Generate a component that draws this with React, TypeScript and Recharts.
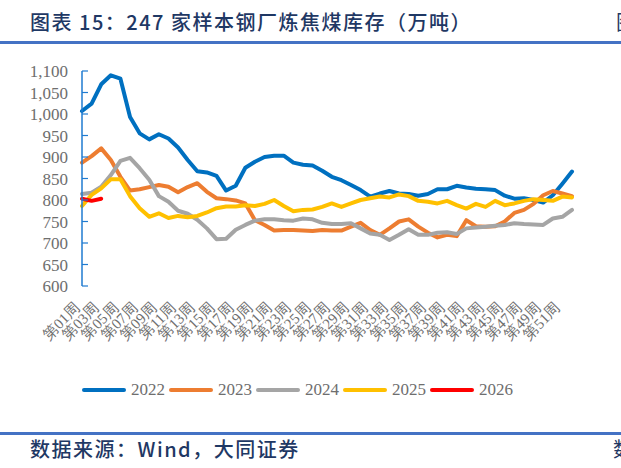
import React from 'react';
import { LineChart, Line, XAxis, YAxis, Legend } from 'recharts';

const weeks = [
  '第01周', '第02周', '第03周', '第04周', '第05周', '第06周', '第07周', '第08周', '第09周', '第10周',
  '第11周', '第12周', '第13周', '第14周', '第15周', '第16周', '第17周', '第18周', '第19周', '第20周',
  '第21周', '第22周', '第23周', '第24周', '第25周', '第26周', '第27周', '第28周', '第29周', '第30周',
  '第31周', '第32周', '第33周', '第34周', '第35周', '第36周', '第37周', '第38周', '第39周', '第40周',
  '第41周', '第42周', '第43周', '第44周', '第45周', '第46周', '第47周', '第48周', '第49周', '第50周',
  '第51周', '第52周',
];

const y2022 = [
  1007, 1024, 1069, 1090, 1082, 993, 955, 941, 953, 943,
  922, 893, 867, 864, 856, 822, 833, 875, 889, 900,
  903, 903, 887, 882, 880, 868, 854, 846, 835, 823,
  808, 815, 821, 815, 814, 810, 814, 825, 825, 833,
  829, 826, 825, 823, 810, 803, 804, 800, 794, 811,
  838, 866,
];
const y2023 = [
  887, 902, 920, 893, 854, 822, 825, 830, 835, 831,
  818, 830, 839, 819, 804, 802, 799, 792, 753, 742,
  729, 730, 730, 729, 728, 730, 729, 729, 738, 747,
  730, 719, 734, 750, 755, 738, 724, 713, 719, 716,
  753, 739, 738, 739, 750, 770, 777, 791, 811, 821,
  815, 809,
];
const y2024 = [
  814, 817, 831, 858, 891, 898, 874, 847, 809, 796,
  775, 768, 754, 734, 709, 710, 731, 742, 752, 755,
  755, 753, 752, 757, 755, 747, 744, 744, 746, 734,
  722, 719, 707, 719, 732, 719, 719, 724, 725, 721,
  734, 736, 738, 740, 742, 746, 744, 743, 742, 757,
  761, 777,
];
const y2025 = [
  786, 812, 827, 848, 848, 809, 781, 761, 769, 758,
  763, 760, 763, 771, 781, 785, 785, 788, 786, 791,
  800, 786, 774, 777, 778, 784, 792, 784, 792, 800,
  804, 808, 806, 813, 809, 798, 796, 792, 798, 788,
  780, 791, 784, 798, 788, 792, 798, 802, 800, 798,
  808, 806,
];
const y2026 = [803, 798, 803];

const seriesNames = ['2022', '2023', '2024', '2025', '2026'];
const seriesColors = ['#0070C0', '#ED7D31', '#A5A5A5', '#FFC000', '#FF0000'];
const seriesValues = [y2022, y2023, y2024, y2025, y2026];

const yTicks = [600, 650, 700, 750, 800, 850, 900, 950, 1000, 1050, 1100];
const boundaryTicks = weeks.map((_, i) => i).concat([weeks.length]);

const data = weeks.map((w, i) => {
  const row: Record<string, any> = { week: w };
  seriesNames.forEach((n, k) => {
    row['s' + n] = seriesValues[k][i];
  });
  return row;
});

const AXIS = '#1F7BD0';
const NAVY = '#1F3864';
const LABEL = '#6E6E6E';
const SERIF = "'Liberation Serif', 'Times New Roman', serif";

const WeekTick = (props: any) => {
  const { x, y, payload } = props;
  const ax = x - 5;
  const ay = y + 19;
  return (
    <text
      x={ax}
      y={ay}
      dy="0.35em"
      transform={`rotate(-45 ${ax} ${ay})`}
      textAnchor="end"
      fill={LABEL}
      fontSize={15}
      fontFamily={SERIF}
    >
      {payload.value}
    </text>
  );
};

const ValueTick = (props: any) => {
  const { x, y, payload } = props;
  return (
    <text
      x={x}
      y={y}
      dy="0.36em"
      textAnchor="end"
      fill={LABEL}
      fontSize={17}
      fontFamily={SERIF}
    >
      {Number(payload.value).toLocaleString('en-US')}
    </text>
  );
};

const renderLegend = (props: any) => {
  const items = props.payload || [];
  return (
    <div style={{ display: 'flex', alignItems: 'center', paddingLeft: 82 }}>
      {items.map((it: any) => (
        <div key={it.value} style={{ display: 'flex', alignItems: 'center', marginRight: 4 }}>
          <svg width={44} height={6} style={{ display: 'block' }}>
            <line x1={2} x2={42} y1={3} y2={3} stroke={it.color} strokeWidth={4} strokeLinecap="round" />
          </svg>
          <span
            style={{
              marginLeft: 5,
              fontFamily: SERIF,
              fontSize: 17,
              color: LABEL,
              lineHeight: '20px',
            }}
          >
            {it.value}
          </span>
        </div>
      ))}
    </div>
  );
};

export default function App() {
  return (
    <div
      style={{
        position: 'absolute',
        left: 0,
        top: 0,
        width: 621,
        height: 468,
        overflow: 'hidden',
        background: '#fff',
      }}
    >
      <div
        style={{
          position: 'absolute',
          left: 30,
          top: 7,
          fontFamily: "'Noto Sans CJK SC', sans-serif",
          fontSize: 20,
          letterSpacing: 1.5,
          color: NAVY,
          whiteSpace: 'nowrap',
          fontWeight: 500,
        }}
      >
        图表 15：247 家样本钢厂炼焦煤库存（万吨）
      </div>
      <div
        style={{
          position: 'absolute',
          left: 616,
          top: 7,
          fontFamily: "'Noto Sans CJK SC', sans-serif",
          fontSize: 20,
          color: NAVY,
          whiteSpace: 'nowrap',
        }}
      >
        图表
      </div>
      <div style={{ position: 'absolute', left: 0, top: 41, width: 621, height: 3, background: '#4472C4' }} />

      <div style={{ position: 'absolute', left: 0, top: 0 }}>
        <LineChart
          width={621}
          height={468}
          data={data}
          margin={{ top: 71, right: 49, bottom: 122, left: 22 }}
        >
          <XAxis
            xAxisId="grid"
            type="number"
            domain={[0, weeks.length]}
            allowDataOverflow
            ticks={boundaryTicks}
            tick={false}
            height={0}
            tickSize={-6}
            axisLine={{ stroke: AXIS, strokeWidth: 1.5 }}
            tickLine={{ stroke: AXIS, strokeWidth: 1.2 }}
          />
          <XAxis
            xAxisId="cat"
            dataKey="week"
            type="category"
            interval={1}
            height={60}
            tickSize={0}
            tickMargin={0}
            axisLine={false}
            tickLine={false}
            tick={<WeekTick />}
          />
          <YAxis
            domain={[600, 1100]}
            ticks={yTicks}
            width={60}
            tickSize={-6}
            tickMargin={20}
            interval={0}
            axisLine={{ stroke: AXIS, strokeWidth: 1.5 }}
            tickLine={{ stroke: AXIS, strokeWidth: 1.2 }}
            tick={<ValueTick />}
          />
          {seriesNames.map((n, k) => (
            <Line
              key={n}
              xAxisId="cat"
              dataKey={'s' + n}
              name={n}
              stroke={seriesColors[k]}
              strokeWidth={4}
              strokeLinejoin="round"
              strokeLinecap="round"
              dot={false}
              activeDot={false}
              isAnimationActive={false}
            />
          ))}
          <Legend
            layout="horizontal"
            verticalAlign="middle"
            align="center"
            content={renderLegend}
            wrapperStyle={{ top: 380, left: 0, width: 621 }}
          />
        </LineChart>
      </div>

      <div style={{ position: 'absolute', left: 0, top: 432, width: 621, height: 3, background: '#4472C4' }} />
      <div
        style={{
          position: 'absolute',
          left: 30,
          top: 434,
          fontFamily: "'Noto Sans CJK SC', sans-serif",
          fontSize: 20,
          letterSpacing: 1.5,
          color: NAVY,
          whiteSpace: 'nowrap',
          fontWeight: 500,
        }}
      >
        数据来源：Wind，大同证券
      </div>
      <div
        style={{
          position: 'absolute',
          left: 613,
          top: 434,
          fontFamily: "'Noto Sans CJK SC', sans-serif",
          fontSize: 20,
          color: NAVY,
          whiteSpace: 'nowrap',
        }}
      >
        数据来源
      </div>
    </div>
  );
}
